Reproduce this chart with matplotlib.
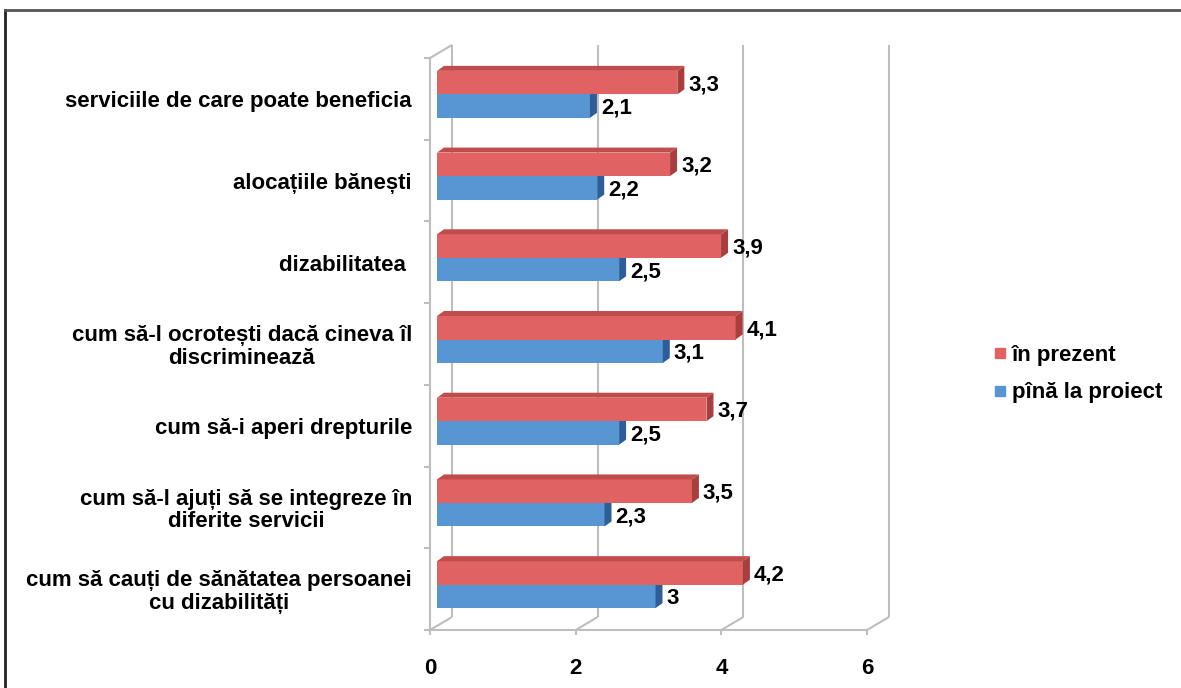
import matplotlib.pyplot as plt
from matplotlib.patches import Polygon
from matplotlib.lines import Line2D

# date: scor mediu de informare, pe teme
categories = [
    "serviciile de care poate beneficia",
    "alocațiile bănești",
    "dizabilitatea ",
    "cum să-l ocrotești dacă cineva îl\ndiscriminează",
    "cum să-i aperi drepturile",
    "cum să-l ajuți să se integreze în\ndiferite servicii",
    "cum să cauți de sănătatea persoanei\ncu dizabilități",
]
in_prezent = [3.3, 3.2, 3.9, 4.1, 3.7, 3.5, 4.2]
pina_la_proiect = [2.1, 2.2, 2.5, 3.1, 2.5, 2.3, 3.0]
x_ticks = [0, 2, 4, 6]

plt.rcParams['font.family'] = ['Liberation Sans', 'DejaVu Sans']
plt.rcParams['font.weight'] = 'bold'
FS = 16

RED, RED_SIDE, RED_TOP = '#E06262', '#A83E3E', '#C04C4C'
BLUE, BLUE_SIDE, BLUE_TOP = '#5896D3', '#2D5E98', '#4A82BE'
GRID = '#BEBEBE'

W, H = 1181, 688
fig = plt.figure(figsize=(W / 100, H / 100), dpi=100)
ax = fig.add_axes([430 / W, 58 / H, 437 / W, 572 / H])
n = len(categories)
ax.set_xlim(0, 6)
ax.set_ylim(n - 0.5, -0.5)
for s in ax.spines.values():
    s.set_visible(False)

# pixeli pe unitate de date
sx = 437 / 6
sy = 572 / n


def shift(x, y, dx, dy):
    # deplasare in pixeli (dy pozitiv = in sus)
    return x + dx / sx, y - dy / sy


WALL = (22, 13)
FACE = (7, 4.5)
DEPTH = (7, 5)
lw = 1.5
line_kw = dict(color=GRID, lw=lw, clip_on=False, zorder=1, solid_capstyle='butt')

# peretele din spate si podeaua
for t in x_ticks:
    x0, y0 = shift(t, n - 0.5, *WALL)
    x1, y1 = shift(t, -0.5, *WALL)
    ax.plot([x0, x1], [y0, y1], **line_kw)
    ax.plot([t, x0], [n - 0.5, y0], **line_kw)
    ax.plot([t, t], [n - 0.5, n - 0.5 + 5 / sy], **line_kw)
ax.plot([0, 6], [n - 0.5, n - 0.5], **line_kw)

# peretele din stanga
ax.plot([0, 0], [-0.5, n - 0.5], **line_kw)
xt, yt = shift(0, -0.5, *WALL)
ax.plot([0, xt], [-0.5, yt], **line_kw)
for i in range(n + 1):
    b = i - 0.5
    ax.plot([-6 / sx, 0], [b, b], **line_kw)

h = 23.5 / sy
left = FACE[0] / sx
ylift = FACE[1] / sy


def bar3d(y_center, value, face, side, top, show_top):
    y_top = y_center - h / 2
    y_bot = y_center + h / 2
    x0, x1 = left, left + value
    ax.barh(y_center, value, height=h, left=left, color=face, zorder=3)
    ax.add_patch(Polygon([(x1, y_top), (x1, y_bot), shift(x1, y_bot, *DEPTH),
                          shift(x1, y_top, *DEPTH)], closed=True,
                         facecolor=side, edgecolor='none', zorder=3, clip_on=False))
    if show_top:
        ax.add_patch(Polygon([(x0, y_top), (x1, y_top), shift(x1, y_top, *DEPTH),
                              shift(x0, y_top, *DEPTH)], closed=True,
                             facecolor=top, edgecolor='none', zorder=3, clip_on=False))
    label = f"{value:g}".replace('.', ',')
    ax.text(x1 + 11 / sx, y_center + 2 / sy, label, ha='left', va='center',
            fontsize=FS, fontweight='bold', zorder=4)


for i in range(n):
    yc_red = i - ylift - h / 2
    yc_blue = i - ylift + h / 2
    bar3d(yc_blue, pina_la_proiect[i], BLUE, BLUE_SIDE, BLUE_TOP, False)
    bar3d(yc_red, in_prezent[i], RED, RED_SIDE, RED_TOP, True)

ax.set_xticks(x_ticks)
ax.set_xticklabels([str(t) for t in x_ticks], fontsize=FS, fontweight='bold')
ax.tick_params(axis='x', length=0, pad=20)
ax.set_yticks([])

# etichetele categoriilor, centrate pe mai multe randuri
for i, cat in enumerate(categories):
    ax.text(-18 / sx, i + 3 / sy, cat, ha='right', va='center', multialignment='center',
            linespacing=1.1, fontsize=FS, fontweight='bold', clip_on=False)

handles = [
    Line2D([], [], marker='s', ls='', color=RED, markersize=7, label='în prezent'),
    Line2D([], [], marker='s', ls='', color=BLUE, markersize=7, label='pînă la proiect'),
]
fig.legend(handles=handles, loc='center left', bbox_to_anchor=(973 / W, 1 - 374 / H),
           frameon=False, handlelength=0.6, handletextpad=0.25, labelspacing=0.75,
           prop={'weight': 'bold', 'size': FS})

# chenarul
fig.add_artist(Line2D([5 / W, 5 / W], [0, 1 - 10 / H], transform=fig.transFigure,
                      color='#222222', lw=2))
fig.add_artist(Line2D([5 / W, 1], [1 - 10 / H, 1 - 10 / H], transform=fig.transFigure,
                      color='#555555', lw=2))

fig.savefig('out.png', dpi=100)
